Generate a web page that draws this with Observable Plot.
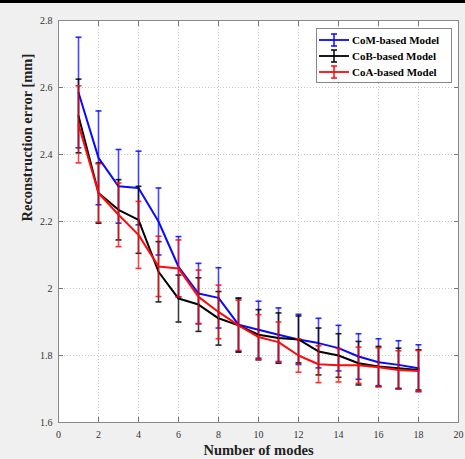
<!DOCTYPE html>
<html><head><meta charset="utf-8">
<script src="https://cdn.jsdelivr.net/npm/d3@7"></script>
<script src="https://cdn.jsdelivr.net/npm/@observablehq/plot@0.6"></script>
<style>
html,body{margin:0;padding:0;background:#f0f0f0;}
#wrap{position:relative;width:465px;height:459px;overflow:hidden;background:#f0f0f0;}
#topbar{position:absolute;left:0;top:0;width:465px;height:3px;background:#000;}
#chart{position:absolute;left:0;top:0;}
#legend{position:absolute;left:316px;top:28px;width:136px;height:55px;background:#fff;border:1px solid #888;box-sizing:border-box;font-family:"Liberation Serif",serif;font-weight:bold;font-size:11px;padding-top:3px;}
.row{display:flex;align-items:center;height:16px;}
.row svg{margin-left:2px;margin-right:3px;}
</style></head><body>
<div id="wrap"><div id="chart"></div><div id="topbar"></div><div id="legend"></div></div>
<script>
const modes = [1,2,3,4,5,6,7,8,9,10,11,12,13,14,15,16,17,18];
const seriesNames = ["CoM-based Model", "CoB-based Model", "CoA-based Model"];
const seriesColors = ["#0a0aff", "#000000", "#ff0a0a"];
const comMean = [2.585,2.39,2.305,2.30,2.20,2.065,1.985,1.972,1.892,1.877,1.862,1.848,1.837,1.822,1.797,1.780,1.772,1.762];
const comErr  = [0.165,0.14,0.11,0.11,0.10,0.09,0.09,0.09,0.08,0.085,0.08,0.075,0.074,0.068,0.068,0.07,0.072,0.07];
const cobMean = [2.515,2.285,2.235,2.205,2.05,1.97,1.952,1.911,1.89,1.862,1.852,1.848,1.812,1.80,1.777,1.767,1.762,1.757];
const cobErr  = [0.11,0.09,0.09,0.10,0.09,0.07,0.08,0.08,0.08,0.075,0.075,0.07,0.07,0.065,0.065,0.06,0.06,0.06];
const coaMean = [2.49,2.285,2.22,2.16,2.066,2.06,1.975,1.93,1.89,1.855,1.84,1.80,1.774,1.771,1.771,1.765,1.757,1.754];
const coaErr  = [0.115,0.087,0.095,0.10,0.09,0.085,0.08,0.08,0.075,0.067,0.06,0.05,0.055,0.05,0.054,0.058,0.057,0.061];
const xTicks = [0,2,4,6,8,10,12,14,16,18,20];
const yTicks = [1.6,1.8,2,2.2,2.4,2.6,2.8];
const xLabel = "Number of modes";
const yLabel = "Reconstruction error [mm]";

const means = [comMean, cobMean, coaMean];
const errs = [comErr, cobErr, coaErr];
const series = seriesNames.map((name, s) => modes.map((m, i) => ({
  mode: m, value: means[s][i], lo: means[s][i] - errs[s][i], hi: means[s][i] + errs[s][i], name
})));

const seriesMarks = series.flatMap((d, s) => {
  const c = seriesColors[s];
  return [
    Plot.ruleX(d, {x: "mode", y1: "lo", y2: "hi", stroke: c, strokeWidth: 1.6, strokeOpacity: 0.75}),
    Plot.link(d, {x1: r => r.mode - 0.15, x2: r => r.mode + 0.15, y1: "hi", y2: "hi", stroke: c, strokeWidth: 1.6, strokeOpacity: 0.85}),
    Plot.link(d, {x1: r => r.mode - 0.15, x2: r => r.mode + 0.15, y1: "lo", y2: "lo", stroke: c, strokeWidth: 1.6, strokeOpacity: 0.85}),
    Plot.line(d, {x: "mode", y: "value", stroke: c, strokeWidth: 2})
  ];
});

const chart = Plot.plot({
  width: 465, height: 459,
  marginLeft: 58, marginRight: 7, marginTop: 20, marginBottom: 37,
  style: {fontFamily: "'Liberation Serif', serif", fontSize: "10px", background: "transparent", color: "#333"},
  x: {domain: [0, 20]},
  y: {domain: [1.6, 2.8]},
  marks: [
    Plot.frame({fill: "white", stroke: null}),
    Plot.gridX(xTicks, {stroke: "#c8c8c8", strokeOpacity: 1, strokeDasharray: "1,2"}),
    Plot.gridY(yTicks, {stroke: "#c8c8c8", strokeOpacity: 1, strokeDasharray: "1,2"}),
    ...seriesMarks,
    Plot.axisX({anchor: "bottom", ticks: xTicks, tickSize: -5, fill: "none", label: null, stroke: "#777"}),
    Plot.axisX({anchor: "top", ticks: xTicks, tickSize: -5, fill: "none", label: null, stroke: "#777"}),
    Plot.axisY({anchor: "left", ticks: yTicks, tickSize: -5, fill: "none", label: null, stroke: "#777"}),
    Plot.axisY({anchor: "right", ticks: yTicks, tickSize: -5, fill: "none", label: null, stroke: "#777"}),
    Plot.axisX({anchor: "bottom", ticks: xTicks, tickSize: 0, tickPadding: 8, label: null, tickFormat: d => `${d}`}),
    Plot.axisY({anchor: "left", ticks: yTicks, tickSize: 0, tickPadding: 6, label: null, tickFormat: d => `${+d.toFixed(2)}`}),
    Plot.frame({stroke: "#888"}),
    Plot.text([xLabel], {frameAnchor: "bottom", dy: 32, fontSize: 14.5, fontWeight: "bold", fill: "#222"}),
    Plot.text([yLabel], {frameAnchor: "left", dx: -31, rotate: -90, fontSize: 14.5, fontWeight: "bold", fill: "#222"})
  ]
});
document.getElementById("chart").appendChild(chart);

const legend = document.getElementById("legend");
seriesNames.forEach((name, s) => {
  const c = seriesColors[s];
  const row = document.createElement("div");
  row.className = "row";
  row.innerHTML = `<svg width="30" height="14"><line x1="0" x2="30" y1="7" y2="7" stroke="${c}" stroke-width="1.8"/><line x1="15" x2="15" y1="1" y2="13" stroke="${c}" stroke-width="1.5"/><line x1="12" x2="18" y1="1" y2="1" stroke="${c}" stroke-width="1.5"/><line x1="12" x2="18" y1="13" y2="13" stroke="${c}" stroke-width="1.5"/></svg><span>${name}</span>`;
  legend.appendChild(row);
});
</script>
</body></html>
